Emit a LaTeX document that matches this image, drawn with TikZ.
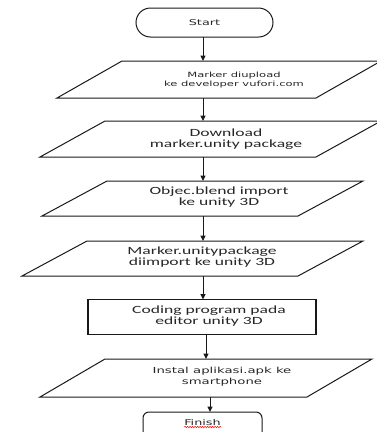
\documentclass[tikz,border=0pt]{standalone}
\usepackage{fontspec}
\newfontfamily\dvfont[FakeStretch=1.6]{DejaVu Sans}
\newfontfamily\cbfont[FakeStretch=1.6]{Carlito}
\usetikzlibrary{arrows.meta,decorations.pathmorphing}

\begin{document}
\begin{tikzpicture}[x=1pt,y=-1pt,line width=1pt,draw=black!90,text=black!85,
  >={Triangle[length=5.5pt,width=5pt]},
  io/.style={rectangle,inner sep=0pt,outer sep=0pt},
  proc/.style={draw,rectangle,line width=1.8pt,inner sep=0pt,outer sep=0pt},
  term/.style={draw,rectangle,rounded corners=#1,inner sep=0pt,outer sep=0pt},
  lbl/.style={align=center,inner sep=0pt}]
\useasboundingbox (0,0) rectangle (377,432);

\node[term=14.5pt,minimum width=137pt,minimum height=29pt,
  font=\dvfont\fontsize{8}{10}\selectfont] (s_0) at (204.5,22.5) {Start};

%% input / output steps
\node[io,minimum width=324pt,minimum height=37pt] (p_1) at (219,79.5) {};
\node[lbl,font=\dvfont\fontsize{7.2}{9.5}\selectfont] (p_1t) at (234,80)
  {Marker diupload\\ke developer vufori.com};

\node[io,minimum width=341pt,minimum height=36pt] (p_2) at (210.5,139) {};
\node[lbl,font=\cbfont\fontsize{11}{11}\selectfont] (p_2t) at (226,139.5)
  {Download\\marker.unity package};

\node[io,minimum width=321pt,minimum height=35pt] (p_3) at (202.5,198.5) {};
\node[lbl,font=\cbfont\fontsize{11}{11}\selectfont] (p_3t) at (219,197)
  {Objec.blend import\\ke unity 3D};

\node[io,minimum width=341pt,minimum height=35pt] (p_4) at (192.5,258.5) {};
\node[lbl,font=\cbfont\fontsize{11}{11}\selectfont] (p_4t) at (202,257.5)
  {Marker.unitypackage\\diimport ke unity 3D};

\node[proc,minimum width=228pt,minimum height=35pt] (r_1) at (202,317) {};
\node[lbl,font=\cbfont\fontsize{11}{11}\selectfont] (r_1t) at (209,316.5)
  {Coding program pada\\editor unity 3D};

\node[io,minimum width=332pt,minimum height=38pt] (p_5) at (206,378) {};
\node[lbl,font=\dvfont\fontsize{8.3}{11}\selectfont] (p_5t) at (222,377)
  {Instal aplikasi.apk ke\\smartphone};

% slanted outlines
\foreach \n in {p_1,p_2,p_3,p_4,p_5}
  \draw ([xshift=65pt]\n.north west) -- (\n.north east)
    -- ([xshift=-65pt]\n.south east) -- (\n.south west) -- cycle;

\node[term=6pt,minimum width=119pt,anchor=north,inner ysep=3pt,text height=10pt,
  text depth=22pt,font=\dvfont\fontsize{8}{10}\selectfont] (f_1) at (202.5,412) {Finish};
\draw[red,line width=0.5pt,decorate,decoration={snake,amplitude=0.7pt,segment length=2.5pt}]
  ([yshift=-2pt]f_1.text) -- ([xshift=37pt,yshift=-2pt]f_1.text);

%% arrows
\coordinate (a_0) at (203,0);
\coordinate (a_1) at (206,0);
\coordinate (a_2) at (210,0);
\path[->]
(a_0 |- s_0.south) edge (a_0 |- p_1.north)
(a_0 |- p_1.south) edge (a_0 |- p_2.north)
(a_0 |- p_2.south) edge (a_0 |- p_3.north)
(a_0 |- p_3.south) edge (a_0 |- p_4.north)
(a_0 |- p_4.south) edge (a_0 |- r_1.north)
(a_1 |- r_1.south) edge (a_1 |- p_5.north)
(a_2 |- p_5.south) edge (a_2 |- f_1.north)
;
\end{tikzpicture}
\end{document}
